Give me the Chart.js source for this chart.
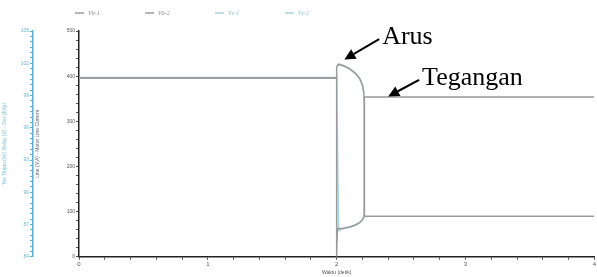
<!DOCTYPE html>
<html>
<head>
<meta charset="utf-8">
<script src="https://cdn.jsdelivr.net/npm/chart.js@4"></script>
<style>
  html, body { margin: 0; padding: 0; background: #fff; }
  #chart { display: block; }
</style>
</head>
<body>
<canvas id="chart" width="597" height="277"></canvas>
<script>
// data
var seriesNames = ['Vb-1', 'Vb-2', 'Vc-1', 'Vc-2'];

// arus (current), gray
var arusTime = [0, 2, 2, 2.01, 2.05, 2.1, 2.15, 2.18, 2.2, 2.21, 2.215, 2.215, 4];
var arusVal  = [396, 396, 420, 426, 423, 416, 405, 394, 380, 365, 340, 90, 90];

// tegangan (voltage), gray
var tegTime = [0, 2, 2, 2.005, 2.05, 2.1, 2.15, 2.18, 2.2, 2.21, 2.215, 2.215, 4];
var tegVal  = [396, 396, 0, 62, 63, 66, 71, 76, 82, 88, 96, 354, 354];

// cyan copies (transient part)
var arusCTime = [2.01, 2.02, 2.06, 2.11, 2.15, 2.18, 2.2, 2.21];
var arusCVal  = [424, 427, 423, 415, 405, 394, 380, 365];
var tegCTime = [0, 2, 2.015, 2.06, 2.11, 2.15, 2.18, 2.2, 2.21];
var tegCVal  = [397, 397, 58, 63, 66, 71, 76, 82, 88];

// axis ticks
var xLabels = [0, 1, 2, 3, 4];
var yLabels = [0, 100, 200, 300, 400, 500];
var y2Labels = [84, 87, 90, 93, 96, 99, 102, 105];

function pts(t, v) {
  var out = [];
  for (var i = 0; i < t.length; i++) out.push({x: t[i], y: v[i]});
  return out;
}

function isLabel(list, v) {
  for (var i = 0; i < list.length; i++) {
    if (Math.abs(list[i] - v) < 1e-6) return true;
  }
  return false;
}

var notes = [
  {text: 'Arus', tip: [2.06, 437], tail: [2.33, 482]},
  {text: 'Tegangan', tip: [2.4, 355], tail: [2.64, 392]}
];

var legendPlugin = {
  id: 'topLegend',
  afterDraw: function(chart) {
    var ctx = chart.ctx;
    ctx.save();
    chart.data.datasets.forEach(function(ds, i) {
      var x = 75 + i * 70, y = 13;
      ctx.strokeStyle = ds.borderColor;
      ctx.lineWidth = 1.5;
      ctx.beginPath();
      ctx.moveTo(x, y);
      ctx.lineTo(x + 9, y);
      ctx.stroke();
      ctx.fillStyle = ds.legendText;
      ctx.font = 'italic 6px "Liberation Serif"';
      ctx.textBaseline = 'middle';
      ctx.fillText(ds.label, x + 13, y);
    });
    ctx.restore();
  }
};

var notePlugin = {
  id: 'notes',
  afterDraw: function(chart) {
    var ctx = chart.ctx, xs = chart.scales.x, ys = chart.scales.y;
    ctx.save();
    notes.forEach(function(n) {
      var x1 = xs.getPixelForValue(n.tail[0]), y1 = ys.getPixelForValue(n.tail[1]);
      var x2 = xs.getPixelForValue(n.tip[0]), y2 = ys.getPixelForValue(n.tip[1]);
      var a = Math.atan2(y2 - y1, x2 - x1);
      var hl = 11, hw = 5.5;
      var bx = x2 - hl * Math.cos(a), by = y2 - hl * Math.sin(a);
      ctx.strokeStyle = '#000';
      ctx.fillStyle = '#000';
      ctx.lineWidth = 2;
      ctx.beginPath();
      ctx.moveTo(x1, y1);
      ctx.lineTo(bx, by);
      ctx.stroke();
      ctx.beginPath();
      ctx.moveTo(x2, y2);
      ctx.lineTo(bx + hw * Math.sin(a), by - hw * Math.cos(a));
      ctx.lineTo(bx - hw * Math.sin(a), by + hw * Math.cos(a));
      ctx.closePath();
      ctx.fill();
      ctx.font = '26px "Liberation Serif"';
      ctx.textBaseline = 'alphabetic';
      ctx.fillText(n.text, x1 + 3, y1 + 5);
    });
    ctx.restore();
  }
};

var gray = '#9b9b9b';
var cyan = '#a7d3e0';

new Chart(document.getElementById('chart'), {
  type: 'line',
  data: {
    datasets: [
      {label: seriesNames[0], data: pts(arusTime, arusVal), borderColor: gray, legendText: '#888'},
      {label: seriesNames[1], data: pts(tegTime, tegVal), borderColor: gray, legendText: '#888'},
      {label: seriesNames[2], data: pts(arusCTime, arusCVal), borderColor: cyan, legendText: '#8cc3d6'},
      {label: seriesNames[3], data: pts(tegCTime, tegCVal), borderColor: cyan, legendText: '#8cc3d6'}
    ]
  },
  options: {
    responsive: false,
    animation: false,
    devicePixelRatio: 1,
    parsing: true,
    elements: {
      point: {radius: 0},
      line: {borderWidth: 1.5, tension: 0}
    },
    layout: {padding: {left: 0, right: 2, top: 31, bottom: 0}},
    plugins: {legend: {display: false}, tooltip: {enabled: false}},
    scales: {
      x: {
        type: 'linear', min: 0, max: 4,
        border: {color: '#222', width: 1.5},
        grid: {drawOnChartArea: false, tickLength: 3, color: '#555'},
        ticks: {
          stepSize: 0.2, autoSkip: false, maxRotation: 0, padding: 1,
          font: {size: 6, family: 'Liberation Sans'}, color: '#555',
          callback: function(v) { return isLabel(xLabels, v) ? String(Math.round(v)) : ''; }
        },
        title: {display: true, text: 'Waktu (detik)', font: {size: 5, family: 'Liberation Sans'}, color: '#555', padding: {top: 1, bottom: 1}}
      },
      y: {
        type: 'linear', position: 'left', min: 0, max: 500, weight: 0,
        border: {color: '#222', width: 1.5},
        grid: {drawOnChartArea: false, tickLength: 3, color: '#555'},
        ticks: {
          stepSize: 20, autoSkip: false, padding: 1,
          font: {size: 5, family: 'Liberation Sans'}, color: '#555',
          callback: function(v) { return isLabel(yLabels, v) ? String(v) : ''; }
        },
        title: {display: true, text: 'Line (V,A) - Motor Line Current', font: {size: 5, family: 'Liberation Sans'}, color: '#666', padding: 2},
        afterFit: function(s) { s.width = 46; }
      },
      y2: {
        type: 'linear', position: 'left', min: 84, max: 105, weight: 1,
        border: {color: '#5fb0cc', width: 1.5},
        grid: {drawOnChartArea: false, tickLength: 3, color: '#5fb0cc'},
        ticks: {
          stepSize: 0.5, autoSkip: false, padding: 1,
          font: {size: 5, family: 'Liberation Sans'}, color: '#6ab8d2',
          callback: function(v) { return isLabel(y2Labels, v) ? String(v) : ''; }
        },
        title: {display: true, text: 'Tes Tinjau (Vs) Relay (V) - Dev (kVp)', font: {size: 5, family: 'Liberation Sans'}, color: '#7cc0d8', padding: 2},
        afterFit: function(s) { s.width = 33; }
      }
    }
  },
  plugins: [legendPlugin, notePlugin]
});
</script>
</body>
</html>
